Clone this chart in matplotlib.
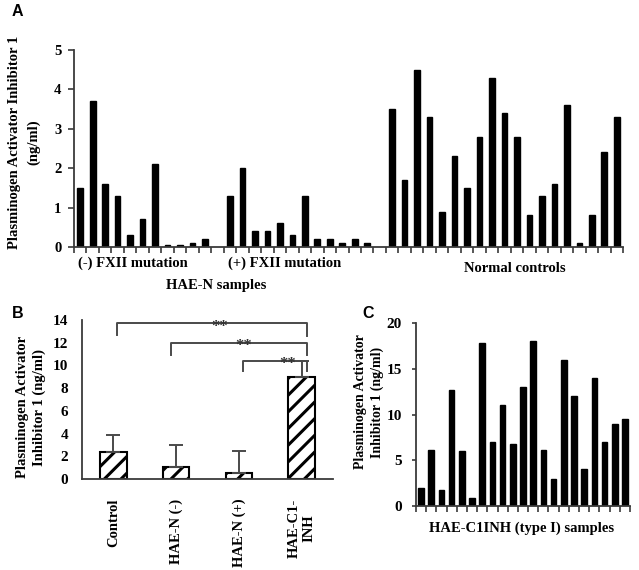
import matplotlib
matplotlib.use('Agg')
import matplotlib.pyplot as plt
import numpy as np

# ---------------- data ----------------
# Panel A
neg_fxii = [1.5, 3.7, 1.6, 1.3, 0.3, 0.7, 2.1, 0.05, 0.05, 0.1, 0.2]
pos_fxii = [1.3, 2.0, 0.4, 0.4, 0.6, 0.3, 1.3, 0.2, 0.2, 0.1, 0.2, 0.1]
normal_ctrl = [3.5, 1.7, 4.5, 3.3, 0.9, 2.3, 1.5, 2.8, 4.3, 3.4, 2.8, 0.8,
               1.3, 1.6, 3.6, 0.1, 0.8, 2.4, 3.3]
a_group_labels = ["(-) FXII mutation", "(+) FXII mutation", "Normal controls"]
a_yticks = [0, 1, 2, 3, 4, 5]

# Panel B
b_categories = ["Control", "HAE-N (-)", "HAE-N (+)", "HAE-C1-\nINH"]
b_means = [2.4, 1.05, 0.53, 9.0]
b_err = [1.5, 1.9, 1.9, 1.35]
b_yticks = [0, 2, 4, 6, 8, 10, 12, 14]
b_sig_pairs = [(0, 3), (1, 3), (2, 3)]
b_sig_text = ["**", "**", "**"]

# Panel C
c_values = [2.0, 6.1, 1.8, 12.7, 6.0, 0.9, 17.8, 7.0, 11.0, 6.8, 13.0, 18.0,
            6.1, 3.0, 16.0, 12.0, 4.0, 14.0, 7.0, 9.0, 9.5]
c_yticks = [0, 5, 10, 15, 20]

# ---------------- style ----------------
plt.rcParams['font.family'] = ['Liberation Serif', 'DejaVu Serif']
plt.rcParams['font.weight'] = 'bold'
plt.rcParams['hatch.linewidth'] = 2.2

W, H = 639, 570
fig = plt.figure(figsize=(W / 100, H / 100), dpi=100)


def rect(l, t, r, b):
    return [l / W, 1 - b / H, (r - l) / W, (b - t) / H]


def fxy(x, y):
    return x / W, 1 - y / H


spine_col = '#3a3a3a'
bracket_col = '#4a4a4a'


def style_axes(ax):
    for s in ['top', 'right']:
        ax.spines[s].set_visible(False)
    for s in ['left', 'bottom']:
        ax.spines[s].set_color(spine_col)
        ax.spines[s].set_linewidth(1.3)


# ---------------- Panel A ----------------
axA = fig.add_axes(rect(74, 50, 623, 247))
style_axes(axA)
pos_neg = np.arange(len(neg_fxii))
start_pos = len(neg_fxii) + 1
pos_pos = np.arange(start_pos, start_pos + len(pos_fxii))
start_norm = pos_pos[-1] + 2
pos_norm = np.arange(start_norm, start_norm + len(normal_ctrl))
n_slots = pos_norm[-1] + 1
for p, v in [(pos_neg, neg_fxii), (pos_pos, pos_fxii), (pos_norm, normal_ctrl)]:
    axA.bar(p, v, width=0.45, color='black', edgecolor='black')
axA.set_xlim(-0.5, n_slots - 0.5)
axA.set_ylim(0, 5)
axA.set_yticks(a_yticks)
axA.set_yticklabels([str(t) for t in a_yticks], fontsize=10.5)
axA.set_xticks(np.arange(-0.5, n_slots, 1.0))
axA.set_xticklabels([])
axA.tick_params(axis='x', direction='out', length=4, width=1.2, color=spine_col)
axA.tick_params(axis='y', direction='out', length=4, width=1.2, color=spine_col, pad=5)

fig.text(*fxy(78, 263), a_group_labels[0], fontsize=10.5, ha='left', va='center')
fig.text(*fxy(228, 263), a_group_labels[1], fontsize=10.5, ha='left', va='center')
fig.text(*fxy(515, 268), a_group_labels[2], fontsize=10.5, ha='center', va='center')
fig.text(*fxy(216, 285), "HAE-N samples", fontsize=10.5, ha='center', va='center')
fig.text(*fxy(24, 142), "Plasminogen Activator Inhibitor 1\n(ng/ml)", fontsize=10.5,
         rotation=90, ha='center', va='center', multialignment='center',
         linespacing=1.55)

# ---------------- Panel B ----------------
axB = fig.add_axes(rect(82, 320, 333, 479))
style_axes(axB)
xb = np.arange(len(b_categories))
axB.bar(xb, b_means, width=0.42, color='white', edgecolor='black',
        linewidth=1.5, hatch='//')
axB.errorbar(xb, b_means, yerr=[np.zeros(len(b_err)), b_err], fmt='none',
             ecolor=bracket_col, elinewidth=1.4, capsize=5, capthick=1.4)
axB.set_xlim(-0.5, len(b_categories) - 0.5)
axB.set_ylim(0, 14)
axB.set_yticks(b_yticks)
axB.set_yticklabels([str(t) for t in b_yticks], fontsize=11)
axB.set_xticks(xb)
axB.set_xticklabels(b_categories, rotation=90, fontsize=10.5, va='top', ha='center',
                    linespacing=1.1)
axB.tick_params(axis='x', length=0, pad=14)
axB.tick_params(axis='y', length=0, pad=10)

bracket_geo = [(13.7, 12.7, 12.55, 0.06, 3.08, 1.7),
               (12.0, 10.9, 10.9, -0.08, 3.08, 2.07),
               (10.4, 9.5, 9.5, 0.06, 3.08, 2.77)]
for (i, j), txt, (hy, ly, ry, dl, dr, sx) in zip(b_sig_pairs, b_sig_text, bracket_geo):
    xl = i + dl
    xr = j + (dr - 3)
    axB.plot([xl, xl, xr, xr], [ly, hy, hy, ry], color=bracket_col, lw=1.4,
             clip_on=False)
    axB.text(sx, hy - 0.3, txt, fontsize=12, ha='center', va='center',
             color='#333333')

fig.text(*fxy(31, 407), "Plasminogen Activator\nInhibitor 1 (ng/ml)", fontsize=10.5,
         rotation=90, ha='center', va='center', multialignment='center',
         linespacing=1.3)

# ---------------- Panel C ----------------
axC = fig.add_axes(rect(416, 323, 630, 506))
style_axes(axC)
xc = np.arange(len(c_values))
axC.bar(xc, c_values, width=0.55, color='black', edgecolor='black')
axC.set_xlim(-0.5, len(c_values) - 0.5)
axC.set_ylim(0, 20)
axC.set_yticks(c_yticks)
axC.set_yticklabels([str(t) for t in c_yticks], fontsize=11)
axC.set_xticks(np.arange(-0.5, len(c_values), 1.0))
axC.set_xticklabels([])
axC.tick_params(axis='x', direction='out', length=4, width=1.2, color=spine_col)
axC.tick_params(axis='y', direction='out', length=3, width=1.2, color=spine_col, pad=7)

fig.text(*fxy(522, 528), "HAE-C1INH (type I) samples", fontsize=10.5,
         ha='center', va='center')
fig.text(*fxy(369, 402), "Plasminogen Activator\nInhibitor 1 (ng/ml)", fontsize=10,
         rotation=90, ha='center', va='center', multialignment='center',
         linespacing=1.3)

# ---------------- panel letters ----------------
for lab, (x, y) in zip(["A", "B", "C"], [(12, 12), (12, 313), (362, 313)]):
    fig.text(*fxy(x, y), lab, fontsize=11.5, fontweight='bold',
             family=['Liberation Sans', 'DejaVu Sans'], ha='left', va='center')

fig.savefig('out.png', dpi=100)
